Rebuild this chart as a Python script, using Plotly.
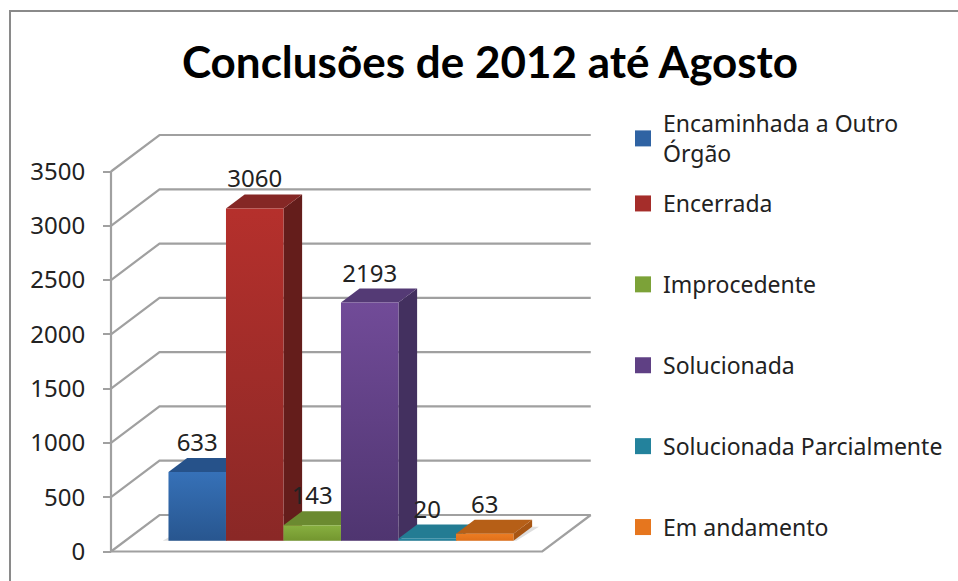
import plotly.graph_objects as go

# ---- data -------------------------------------------------------------
categories = ["Encaminhada a Outro<br>Órgão", "Encerrada", "Improcedente",
              "Solucionada", "Solucionada Parcialmente", "Em andamento"]
values = [633, 3060, 143, 2193, 20, 63]
y_ticks = [0, 500, 1000, 1500, 2000, 2500, 3000, 3500]

front_bottom = ["#28568F", "#8A2826", "#73962F", "#4F3570", "#217A94", "#E0701A"]
front_top = ["#3671B8", "#B5302C", "#88B040", "#714B98", "#268AA6", "#EC7C22"]
top_colors = ["#26528A", "#852725", "#6B8A30", "#543A75", "#237C93", "#B65F17"]
side_colors = ["#1E4270", "#641D1B", "#567026", "#43305F", "#1B5F73", "#A85614"]
legend_colors = ["#2F63A3", "#A52D2A", "#7CA238", "#5F4084", "#23829C", "#E6761E"]

# ---- oblique projection ----------------------------------------------
W, H = 958, 581
AX_LEFT = 111        # px position of front-left corner
AX_ZERO = 551.5      # px position of value 0
CAT_PX = 57.5        # px per column width
VAL_PX = 380 / 3500  # px per value unit
DEPTH_X = 48.5 / CAT_PX
DEPTH_Y = 36.5 / VAL_PX
FLOOR_W = 7.5
GAP = 0.75
D0, D1 = 0.296, 0.68
LABEL_RAISE = 27 / VAL_PX


def P(col, val, depth):
    return col + depth * DEPTH_X, val + depth * DEPTH_Y


def poly(points):
    pts = [P(*p) for p in points] + [P(*points[0])]
    return [p[0] for p in pts], [p[1] for p in pts]


fig = go.Figure()

# ---- walls / gridlines ------------------------------------------------
gx, gy = [], []
for t in y_ticks:
    for p in [(0, t, 0), (0, t, 1), (FLOOR_W, t, 1)]:
        x, y = P(*p)
        gx.append(x)
        gy.append(y)
    gx.append(None)
    gy.append(None)
for seg in [[(0, 0, 0), (0, max(y_ticks), 0)],
            [(0, 0, 0), (FLOOR_W, 0, 0), (FLOOR_W, 0, 1)]]:
    for p in seg:
        x, y = P(*p)
        gx.append(x)
        gy.append(y)
    gx.append(None)
    gy.append(None)
fig.add_trace(go.Scatter(x=gx, y=gy, mode="lines", showlegend=False, hoverinfo="skip",
                         line=dict(color="#A0A0A0", width=2.2)))

# ---- floor shadow -----------------------------------------------------
sx, sy = poly([(GAP - 0.1, 0, D0), (GAP + 6.05, 0, D0), (GAP + 6.12, 0, D1), (GAP, 0, D1)])
fig.add_trace(go.Scatter(x=sx, y=sy, mode="lines", fill="toself", fillcolor="rgba(0,0,0,0.13)",
                         line=dict(width=0), showlegend=False, hoverinfo="skip"))

# ---- bars --------------------------------------------------------------
for i, v in enumerate(values):
    a, b = GAP + i, GAP + i + 1
    x, y = poly([(b, 0, D0), (b, 0, D1), (b, v, D1), (b, v, D0)])
    fig.add_trace(go.Scatter(x=x, y=y, mode="lines", fill="toself", fillcolor=side_colors[i],
                             line=dict(width=0), showlegend=False, hoverinfo="skip"))
    x, y = poly([(a, v, D0), (b, v, D0), (b, v, D1), (a, v, D1)])
    fig.add_trace(go.Scatter(x=x, y=y, mode="lines", fill="toself", fillcolor=top_colors[i],
                             line=dict(width=0), showlegend=False, hoverinfo="skip"))
    x, y = poly([(a, 0, D0), (b, 0, D0), (b, v, D0), (a, v, D0)])
    fig.add_trace(go.Scatter(x=x, y=y, mode="lines", fill="toself",
                             fillgradient=dict(type="vertical",
                                               colorscale=[[0, front_bottom[i]], [1, front_top[i]]]),
                             line=dict(width=0), showlegend=False, hoverinfo="skip"))

# ---- data labels -------------------------------------------------------
lx, ly = [], []
for i, v in enumerate(values):
    x, y = P(GAP + i + 0.5, v, D0)
    lx.append(x)
    ly.append(y + LABEL_RAISE)
fig.add_trace(go.Scatter(x=lx, y=ly, mode="text", text=[str(v) for v in values],
                         textposition="middle center", showlegend=False, hoverinfo="skip",
                         textfont=dict(family="Noto Sans", size=24, color="#222222")))

# ---- legend entries ----------------------------------------------------
for i, c in enumerate(categories):
    fig.add_trace(go.Scatter(x=[None], y=[None], mode="markers", name=c, legendgroup=f"g{i}",
                             legend="legend" if i == 0 else "legend2",
                             marker=dict(symbol="square", size=16, color=legend_colors[i])))

legend_font = dict(family="Noto Sans", size=23, color="#222222")
fig.update_layout(
    width=W, height=H, margin=dict(l=0, r=0, t=0, b=0),
    paper_bgcolor="white", plot_bgcolor="white",
    title=dict(text="<b>Conclusões de 2012 até Agosto</b>", x=490 / W, y=1 - 63 / H,
               xanchor="center", yanchor="middle",
               font=dict(family="Lato", size=44, color="#000000")),
    xaxis=dict(visible=False, range=[-AX_LEFT / CAT_PX, (W - AX_LEFT) / CAT_PX]),
    yaxis=dict(range=[(AX_ZERO - H) / VAL_PX, AX_ZERO / VAL_PX], anchor="free",
               position=AX_LEFT / W, tickvals=y_ticks, ticks="outside", ticklen=8, tickwidth=2,
               tickcolor="#A0A0A0", showgrid=False, zeroline=False, showline=False,
               ticklabelstandoff=13,
               tickfont=dict(family="Noto Sans", size=24, color="#222222")),
    legend=dict(x=623 / W, y=1 - 102 / H, xanchor="left", yanchor="top",
                bgcolor="rgba(0,0,0,0)", font=legend_font),
    legend2=dict(x=623 / W, y=1 - 182 / H, xanchor="left", yanchor="top",
                 tracegroupgap=48, bgcolor="rgba(0,0,0,0)", font=legend_font),
    shapes=[dict(type="path", xref="paper", yref="paper",
                 path=f"M {10 / W} 0 L {10 / W} {1 - 11 / H} L 1 {1 - 11 / H}",
                 line=dict(color="#8A8A8A", width=2))],
)

fig.write_html("out.html", config=dict(displayModeBar=False),
               post_script="document.body.style.margin='0';")
